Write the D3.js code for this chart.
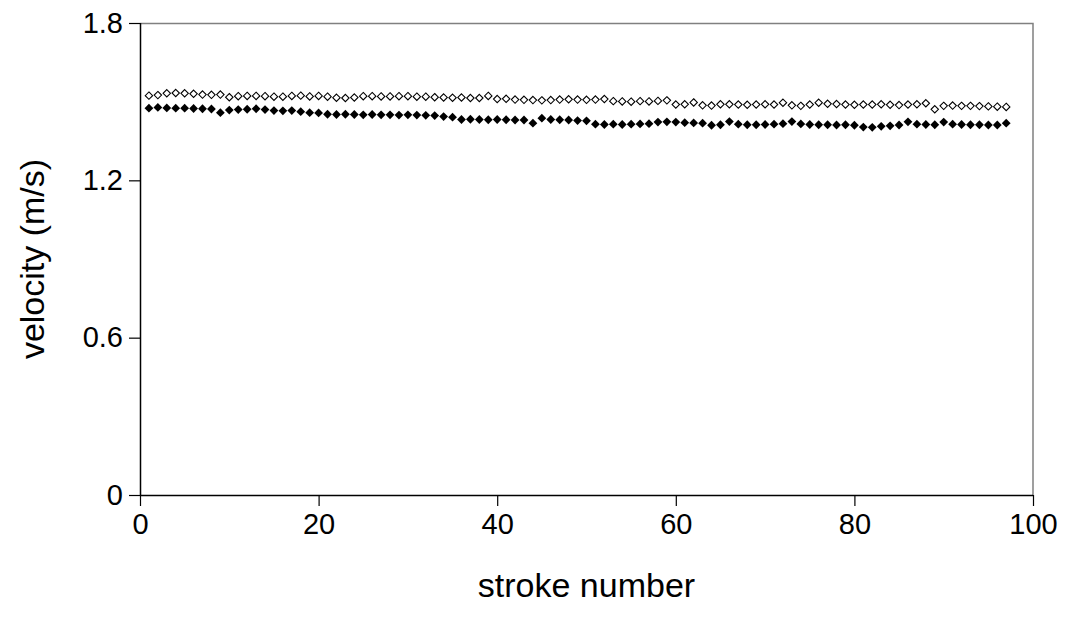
<!DOCTYPE html>
<html>
<head>
<meta charset="utf-8">
<script src="https://cdn.jsdelivr.net/npm/d3@7"></script>
<style>
  body { margin: 0; background: #fff; }
  svg text { font-family: "Liberation Sans", Arial, sans-serif; fill: #000; }
</style>
</head>
<body>
<svg id="chart" width="1068" height="623"></svg>
<script>
// stroke numbers 1..97
const strokes = d3.range(1, 98);

// upper series (open diamonds)
const openVel = [
  1.523, 1.525, 1.532, 1.533, 1.532, 1.530, 1.527, 1.526, 1.527, 1.517,
  1.521, 1.522, 1.522, 1.521, 1.519, 1.519, 1.522, 1.523, 1.520, 1.522,
  1.519, 1.515, 1.514, 1.516, 1.521, 1.521, 1.520, 1.520, 1.521, 1.521,
  1.519, 1.519, 1.517, 1.516, 1.515, 1.516, 1.514, 1.514, 1.522, 1.510,
  1.511, 1.508, 1.507, 1.506, 1.505, 1.506, 1.508, 1.509, 1.508, 1.507,
  1.508, 1.510, 1.502, 1.501, 1.500, 1.502, 1.501, 1.503, 1.505, 1.489,
  1.490, 1.497, 1.486, 1.485, 1.490, 1.490, 1.489, 1.488, 1.489, 1.490,
  1.489, 1.496, 1.486, 1.484, 1.489, 1.496, 1.492, 1.491, 1.489, 1.488,
  1.489, 1.489, 1.490, 1.488, 1.487, 1.489, 1.490, 1.494, 1.471, 1.484,
  1.485, 1.484, 1.484, 1.483, 1.482, 1.481, 1.480
];

// lower series (filled diamonds)
const filledVel = [
  1.475, 1.478, 1.476, 1.475, 1.475, 1.474, 1.473, 1.472, 1.458, 1.468,
  1.470, 1.471, 1.473, 1.470, 1.466, 1.465, 1.466, 1.462, 1.458, 1.457,
  1.452, 1.451, 1.452, 1.451, 1.450, 1.451, 1.450, 1.450, 1.449, 1.450,
  1.449, 1.448, 1.447, 1.443, 1.441, 1.432, 1.433, 1.432, 1.431, 1.432,
  1.431, 1.430, 1.430, 1.418, 1.437, 1.432, 1.431, 1.430, 1.428, 1.427,
  1.414, 1.413, 1.414, 1.413, 1.414, 1.415, 1.416, 1.422, 1.423, 1.422,
  1.420, 1.419, 1.418, 1.410, 1.412, 1.424, 1.414, 1.412, 1.412, 1.413,
  1.414, 1.416, 1.424, 1.415, 1.413, 1.412, 1.412, 1.411, 1.412, 1.410,
  1.403, 1.402, 1.406, 1.408, 1.411, 1.423, 1.414, 1.413, 1.412, 1.422,
  1.414, 1.413, 1.412, 1.412, 1.411, 1.411, 1.418
];

const xTicks = [0, 20, 40, 60, 80, 100];
const yTicks = [0, 0.6, 1.2, 1.8];

const margin = { top: 23, right: 35, bottom: 128, left: 140 };
const svg = d3.select('#chart');
const width = 1068 - margin.left - margin.right;
const height = 623 - margin.top - margin.bottom;

const g = svg.append('g')
  .attr('transform', `translate(${margin.left},${margin.top})`);

const x = d3.scaleLinear().domain([0, 100]).range([0, width]);
const y = d3.scaleLinear().domain([0, 1.8]).range([height, 0]);

// top and right frame (grey)
g.append('path')
  .attr('d', `M0,0.5H${width}V${height}`)
  .attr('fill', 'none')
  .attr('stroke', '#808080')
  .attr('stroke-width', 1.5);

// axes
const xAxis = g.append('g')
  .attr('transform', `translate(0,${height})`)
  .call(d3.axisBottom(x).tickValues(xTicks).tickSize(11).tickPadding(7).tickFormat(d3.format('d')));

const yAxis = g.append('g')
  .call(d3.axisLeft(y).tickValues(yTicks).tickSize(11).tickPadding(6).tickFormat(d => d === 0 ? '0' : d3.format('.1f')(d)));

[xAxis, yAxis].forEach(a => {
  a.select('.domain').attr('stroke', '#000').attr('stroke-width', 1.5);
  a.selectAll('.tick line').attr('stroke', '#000').attr('stroke-width', 1.2);
  a.selectAll('.tick text').style('font-size', '29px');
});
xAxis.select('.domain').attr('d', `M0,0.5H${width}`);
yAxis.select('.domain').attr('d', `M0.5,0V${height}`);

// axis titles
g.append('text')
  .attr('x', width / 2)
  .attr('y', height + 102)
  .attr('text-anchor', 'middle')
  .style('font-size', '34px')
  .text('stroke number');

g.append('text')
  .attr('transform', `translate(-96,${height / 2}) rotate(-90)`)
  .attr('text-anchor', 'middle')
  .style('font-size', '34px')
  .text('velocity (m/s)');

// diamond markers
const diamond = r => `M0,${-r}L${r},0L0,${r}L${-r},0Z`;

g.append('g').selectAll('path')
  .data(strokes)
  .enter()
  .append('path')
  .attr('transform', (d, i) => `translate(${x(d)},${y(openVel[i])})`)
  .attr('d', diamond(3.7))
  .attr('fill', '#fff')
  .attr('stroke', '#000')
  .attr('stroke-width', 1.1);

g.append('g').selectAll('path')
  .data(strokes)
  .enter()
  .append('path')
  .attr('transform', (d, i) => `translate(${x(d)},${y(filledVel[i])})`)
  .attr('d', diamond(4.4))
  .attr('fill', '#000');
</script>
</body>
</html>
